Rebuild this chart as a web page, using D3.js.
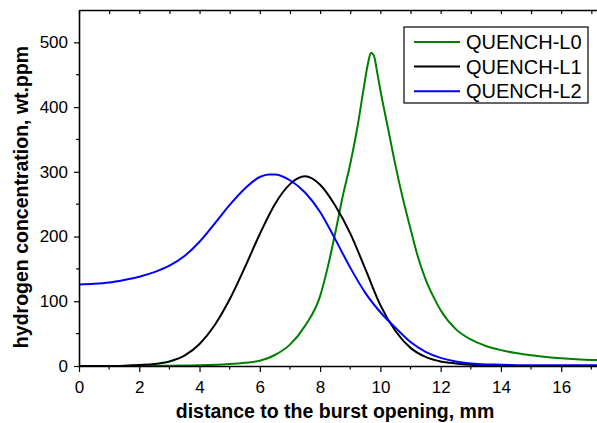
<!DOCTYPE html>
<html>
<head>
<meta charset="utf-8">
<script src="https://cdn.jsdelivr.net/npm/d3@7"></script>
<style>
  body { margin: 0; background: #fff; }
  svg { font-family: "Liberation Sans", Arial, sans-serif; }
</style>
</head>
<body>
<div id="chart"></div>
<script>
// series: [distance mm, hydrogen wt.ppm]
const seriesNames = ["QUENCH-L0", "QUENCH-L1", "QUENCH-L2"];
const seriesColors = ["#008000", "#000000", "#0000ff"];

const quenchL0 = [
  [0, 0], [2, 0], [3, 0.5], [4, 1], [5, 3], [5.5, 5], [6, 8], [6.5, 17], [7, 33],
  [7.5, 62], [8, 108], [8.25, 152], [8.5, 205], [8.75, 262], [9, 312], [9.25, 372],
  [9.45, 430], [9.6, 470], [9.69, 484], [9.78, 480], [9.9, 452], [10, 426], [10.25, 368],
  [10.5, 310], [10.75, 258], [11, 212], [11.25, 168], [11.5, 134], [11.75, 108], [12, 86],
  [12.5, 57], [13, 41], [13.5, 31], [14, 24.5], [14.5, 20], [15, 16.5], [15.5, 14],
  [16, 12], [16.5, 10.5], [17.3, 9]
];
const quenchL1 = [
  [0, 0], [1, 0], [1.5, 0.5], [2, 1.5], [2.5, 3], [3, 7], [3.5, 16], [4, 34], [4.5, 63],
  [5, 103], [5.5, 152], [6, 204], [6.5, 250], [7, 281], [7.5, 293], [8, 280], [8.5, 248],
  [9, 205], [9.5, 150], [10, 94], [10.5, 54], [11, 28], [11.5, 14], [12, 7], [12.5, 4],
  [13, 2], [13.5, 1], [14, 0.5], [14.5, 0], [17.3, 0]
];
const quenchL2 = [
  [0, 126], [0.5, 127], [1, 129], [1.5, 133], [2, 138], [2.5, 145], [3, 155], [3.5, 170],
  [4, 192], [4.5, 220], [5, 249], [5.5, 274], [6, 292], [6.3, 296], [6.5, 296], [7, 287],
  [7.5, 268], [8, 238], [8.5, 196], [9, 152], [9.5, 113], [10, 83], [10.5, 59], [11, 37],
  [11.5, 22], [12, 12.5], [12.5, 7], [13, 4], [13.5, 2.5], [14, 2], [15, 1], [17.3, 1]
];
const allSeries = [quenchL0, quenchL1, quenchL2];

const xTicks = [0, 2, 4, 6, 8, 10, 12, 14, 16];
const yTicks = [0, 100, 200, 300, 400, 500];

const width = 597, height = 423;
const margin = { top: 10, right: -7, bottom: 57, left: 79 };
const innerW = width - margin.left - margin.right;
const innerH = height - margin.top - margin.bottom;

const svg = d3.select("#chart").append("svg")
  .attr("width", width)
  .attr("height", height);

const x = d3.scaleLinear().domain([0, 17.42]).range([0, innerW]);
const y = d3.scaleLinear().domain([0, 550]).range([innerH, 0]);

const g = svg.append("g")
  .attr("transform", `translate(${margin.left},${margin.top})`);

// lines
const line = d3.line()
  .x(d => x(d[0]))
  .y(d => y(d[1]))
  .curve(d3.curveMonotoneX);

g.append("defs").append("clipPath").attr("id", "clip")
  .append("rect").attr("y", -2).attr("width", innerW).attr("height", innerH + 2);

g.append("g").attr("clip-path", "url(#clip)")
  .selectAll("path")
  .data(allSeries)
  .join("path")
  .attr("d", line)
  .attr("fill", "none")
  .attr("stroke", (d, i) => seriesColors[i])
  .attr("stroke-width", 2);

// axes
const xMinor = d3.range(1, 18, 2);
const yMinor = d3.range(50, 550, 100);

const xAxis = g.append("g").attr("transform", `translate(0,${innerH})`)
  .call(d3.axisBottom(x).tickValues(xTicks).tickSize(6).tickSizeOuter(0));
xAxis.append("g").selectAll("line").data(xMinor).join("line")
  .attr("x1", d => x(d)).attr("x2", d => x(d)).attr("y1", 0).attr("y2", 3.5)
  .attr("stroke", "#000").attr("stroke-width", 1.2);

const yAxis = g.append("g")
  .call(d3.axisLeft(y).tickValues(yTicks).tickSize(5).tickSizeOuter(0));
yAxis.append("g").selectAll("line").data(yMinor).join("line")
  .attr("x1", 0).attr("x2", -3).attr("y1", d => y(d)).attr("y2", d => y(d))
  .attr("stroke", "#000").attr("stroke-width", 1.2);

// top frame with inward ticks
const topAxis = g.append("g")
  .call(d3.axisTop(x).tickValues(xTicks.concat(xMinor)).tickSize(-4).tickSizeOuter(0).tickFormat(""));

[xAxis, yAxis, topAxis].forEach(a => {
  a.select(".domain").attr("stroke", "#000").attr("stroke-width", 1.6);
  a.selectAll(".tick line").attr("stroke", "#000").attr("stroke-width", 1.2);
});
xAxis.selectAll(".tick text").attr("font-size", 17).attr("fill", "#000").attr("y", 15);
yAxis.selectAll(".tick text").attr("font-size", 17).attr("fill", "#000").attr("x", -11);

// axis titles
svg.append("text")
  .attr("x", 335).attr("y", 418)
  .attr("text-anchor", "middle")
  .attr("font-size", 19.5).attr("font-weight", "bold")
  .text("distance to the burst opening, mm");

svg.append("text")
  .attr("transform", "translate(28,197) rotate(-90)")
  .attr("text-anchor", "middle")
  .attr("font-size", 19.5).attr("font-weight", "bold")
  .text("hydrogen concentration, wt.ppm");

// legend
const legend = svg.append("g").attr("transform", "translate(404,27)");
legend.append("rect")
  .attr("width", 184).attr("height", 76)
  .attr("fill", "#fff").attr("stroke", "#000").attr("stroke-width", 1.2);

const items = legend.selectAll("g.item")
  .data(seriesNames)
  .join("g")
  .attr("class", "item")
  .attr("transform", (d, i) => `translate(0,${15 + i * 24.6})`);
items.append("line")
  .attr("x1", 10).attr("x2", 56)
  .attr("stroke", (d, i) => seriesColors[i]).attr("stroke-width", 2);
items.append("text")
  .attr("x", 62).attr("dy", "0.36em")
  .attr("font-size", 20)
  .text(d => d);
</script>
</body>
</html>
